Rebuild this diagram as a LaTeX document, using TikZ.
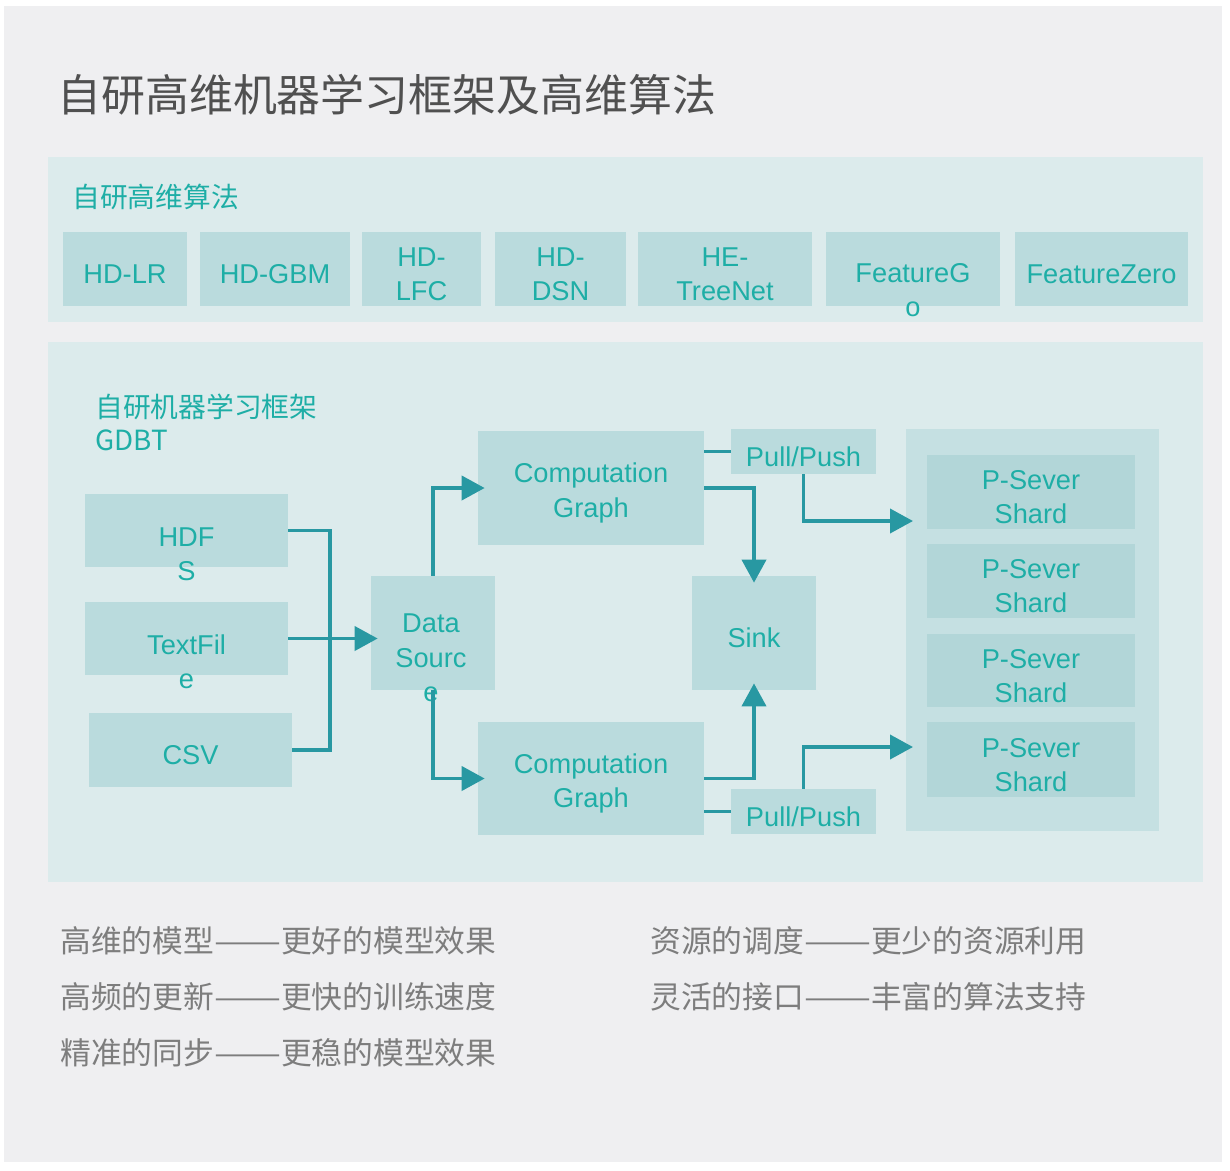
\documentclass[tikz,border=0pt]{standalone}
\usepackage{fontspec}
\setmainfont{Liberation Sans}
\newfontfamily\cjk{Noto Sans CJK SC}
\usetikzlibrary{positioning,arrows.meta}
\definecolor{bgcol}{RGB}{239,239,241}
\definecolor{panelcol}{RGB}{220,235,236}
\definecolor{boxcol}{RGB}{186,219,221}
\definecolor{pscol}{RGB}{197,224,226}
\definecolor{shardcol}{RGB}{178,214,216}
\definecolor{tealtxt}{RGB}{30,174,166}
\definecolor{linecol}{RGB}{40,152,162}
\definecolor{titlecol}{RGB}{80,80,80}
\definecolor{greytxt}{RGB}{125,125,125}
\newcommand{\longdash}{\scalebox{1.3}[1]{——}}
\tikzset{
  sz/.style 2 args={minimum width=#1*0.2mm, minimum height=#2*0.2mm},
  panel/.style={fill=panelcol, inner sep=0pt},
  algbox/.style={fill=boxcol, inner sep=0pt, align=center, text=tealtxt, font=\fontsize{15.5}{19.5}\selectfont, execute at begin node={\rule{0pt}{17pt}}},
  twoline/.style={text height=36.5pt},
  psbox/.style={fill=pscol, inner sep=0pt},
  shardbox/.style={algbox, twoline, fill=shardcol},
  boxtxt/.style={inner sep=0pt, align=center, text=tealtxt, font=\fontsize{15.5}{19.5}\selectfont},
  headtxt/.style={anchor=west, inner sep=0pt, text=tealtxt, font=\cjk\fontsize{15.8}{19}\selectfont},
  notetxt/.style={anchor=west, inner sep=0pt, text=greytxt, font=\cjk\fontsize{17.5}{20}\selectfont},
  link/.style={draw=linecol, line width=2.2pt},
  flowarrow/.style={link, -{Triangle[length=4.6mm, width=4.8mm]}, shorten >=-1.4mm}
}
\begin{document}
\begin{tikzpicture}[x=0.02cm, y=-0.02cm]
  \useasboundingbox (0,0) rectangle (1230,1170);
  \fill[white] (0,0) rectangle (1230,1170);
  \fill[bgcol] (4,6) rectangle (1222,1162);

  \node[anchor=west, inner sep=0pt, text=titlecol, font=\cjk\fontsize{25}{30}\selectfont] (title) at (57,95) {自研高维机器学习框架及高维算法};

  \node[panel, sz={1155}{165}] (algpanel) at (625.5,239.5) {};
  \node[headtxt] (alghead) at (72,197) {自研高维算法};
  \node[algbox, sz={124}{74}] (hdlr) at (125,269) {HD-LR};
  \node[algbox, sz={150}{74}] (hdgbm) at (275,269) {HD-GBM};
  \node[algbox, twoline, sz={119}{74}] (hdlfc) at (421.5,269) {HD-\\LFC};
  \node[algbox, twoline, sz={131}{74}] (hddsn) at (560.5,269) {HD-\\DSN};
  \node[algbox, twoline, sz={174}{74}] (hetree) at (725,269) {HE-\\TreeNet};
  \node[algbox, sz={174}{74}] (fgo) at (913,269) {};
  \node[boxtxt] (fgotxt) at (913,290) {FeatureG\\o};
  \node[algbox, sz={173}{74}] (fzero) at (1101.5,269) {FeatureZero};

  \node[panel, sz={1155}{540}] (fwpanel) at (625.5,612) {};
  \node[headtxt] (fwhead) at (95,407) {自研机器学习框架};
  \node[headtxt] (gdbt) at (95,440) {GDBT};

  \node[algbox, sz={203}{73}] (hdfs) at (186.5,530.5) {};
  \node[boxtxt] (hdfstxt) at (186.5,554) {HDF\\S};
  \node[algbox, sz={203}{73}] (textfile) at (186.5,638.5) {};
  \node[boxtxt] (textfiletxt) at (186.5,662) {TextFil\\e};
  \node[algbox, sz={203}{74}] (csv) at (190.5,750) {CSV};

  \node[algbox, sz={124}{114}] (dsrc) at (433,633) {};
  \node[boxtxt] (dsrctxt) at (431,658) {Data\\Sourc\\e};
  \node[algbox, twoline, sz={226}{114}] (cg1) at (591,488) {Computation\\Graph};
  \node[algbox, twoline, sz={226}{113}] (cg2) at (591,778.5) {Computation\\Graph};
  \node[algbox, sz={124}{114}] (sink) at (754,633) {Sink};
  \node[algbox, sz={145}{45}] (pp1) at (803.5,451.5) {Pull/Push};
  \node[algbox, sz={145}{45}] (pp2) at (803.5,811.5) {Pull/Push};

  \node[psbox, sz={253}{402}] (pserver) at (1032.5,630) {};
  \node[shardbox, sz={208}{74}] (shard1) at (1031,492) {P-Sever\\Shard};
  \node[shardbox, sz={208}{74}] (shard2) at (1031,581) {P-Sever\\Shard};
  \node[shardbox, sz={208}{73}] (shard3) at (1031,670.5) {P-Sever\\Shard};
  \node[shardbox, sz={208}{75}] (shard4) at (1031,759.5) {P-Sever\\Shard};
  \coordinate (psin1) at (906,521);
  \coordinate (psin2) at (906,747);

  \draw[link] (hdfs.east) -- ++(42,0) |- (csv.east);
  \draw[flowarrow] (textfile.east) -- (textfile.east -| dsrc.west);
  \draw[flowarrow] (dsrc.north) |- (cg1.west);
  \draw[flowarrow] (dsrc.south) |- (cg2.west);
  \draw[flowarrow] (cg1.east) -| (sink.north);
  \draw[flowarrow] (cg2.east) -| (sink.south);
  \draw[link] (pp1.west) -- (pp1.west -| cg1.east);
  \draw[link] (pp2.west) -- (pp2.west -| cg2.east);
  \draw[flowarrow] (pp1.south) |- (psin1);
  \draw[flowarrow] (pp2.north) |- (psin2);

  \node[notetxt] (note1) at (60,941) {高维的模型\longdash 更好的模型效果};
  \node[notetxt] (note2) at (60,997) {高频的更新\longdash 更快的训练速度};
  \node[notetxt] (note3) at (60,1053) {精准的同步\longdash 更稳的模型效果};
  \node[notetxt] (note4) at (650,941) {资源的调度\longdash 更少的资源利用};
  \node[notetxt] (note5) at (650,997) {灵活的接口\longdash 丰富的算法支持};
\end{tikzpicture}
\end{document}
